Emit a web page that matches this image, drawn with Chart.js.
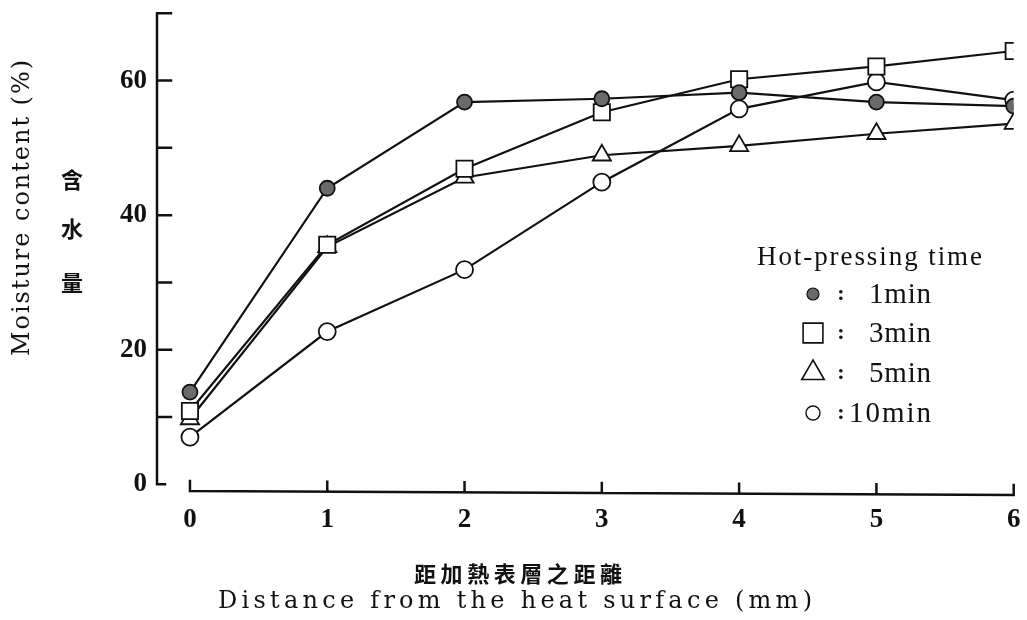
<!DOCTYPE html>
<html>
<head>
<meta charset="utf-8">
<script src="https://cdn.jsdelivr.net/npm/chart.js@4"></script>
<style>
  html, body { margin: 0; padding: 0; background: #fff; }
  #wrap { width: 1027px; height: 620px; }
</style>
</head>
<body>
<div id="wrap"><canvas id="moistureChart" width="1027" height="620"></canvas></div>
<script>
// Moisture content vs distance from heat surface

const distances = [0, 1, 2, 3, 4, 5, 6];
const moisture1min = [13.7, 44.0, 56.8, 57.3, 58.2, 56.8, 56.2];
const moisture3min = [10.9, 35.6, 46.9, 55.3, 60.2, 62.1, 64.4];
const moisture5min = [9.7, 35.3, 45.6, 48.9, 50.3, 52.1, 53.6];
const moisture10min = [7.0, 22.7, 31.9, 44.9, 55.8, 59.8, 57.1];
const seriesNames = ['1min', '3min', '5min', '10min'];
const xTickLabels = [0, 1, 2, 3, 4, 5, 6];
const yTickValues = [0, 10, 20, 30, 40, 50, 60, 70];
const yTickLabels = [0, 20, 40, 60];
const legendTitle = 'Hot-pressing time';
const yTitleEn = 'Moisture content (%)';
const yTitleZh = ['含', '水', '量'];
const xTitleZh = '距加熱表層之距離';
const xTitleEn = 'Distance from the heat surface (mm)';

const INK = '#111';
const SERIF = "'Liberation Serif', 'DejaVu Serif', serif";

function toPoints(arr){ return arr.map((v, i) => ({ x: distances[i], y: v })); }

// draw text stretched to a given width with letter spacing
function drawFit(ctx, text, x, y, width, font, align){
  ctx.font = font;
  ctx.letterSpacing = '0px';
  const w = ctx.measureText(text).width;
  const sp = Math.max(0, (width - w) / Math.max(1, text.length - 1));
  ctx.letterSpacing = sp + 'px';
  ctx.textAlign = 'left';
  const x0 = align === 'right' ? x - width : x;
  ctx.fillText(text, x0, y);
  ctx.letterSpacing = '0px';
}

function marker(ctx, style, r, x, y, fill, bw){
  ctx.save();
  ctx.fillStyle = fill;
  ctx.strokeStyle = INK;
  ctx.lineWidth = bw;
  if (Chart.helpers && Chart.helpers.drawPoint){
    Chart.helpers.drawPoint(ctx, { pointStyle: style, radius: r, borderWidth: bw, rotation: 0 }, x, y);
  }
  ctx.restore();
}

const framePlugin = {
  id: 'frame',
  beforeDatasetsDraw(chart){
    const { ctx, chartArea, scales } = chart;
    const x = scales.x, y = scales.y;
    ctx.save();
    ctx.strokeStyle = INK;
    ctx.lineWidth = 2.5;
    ctx.lineCap = 'square';
    // y axis (bracket with inward ticks)
    const yl = chartArea.left;
    ctx.beginPath();
    ctx.moveTo(yl, y.getPixelForValue(0));
    ctx.lineTo(yl, y.getPixelForValue(70));
    y.ticks.forEach(t => {
      const py = y.getPixelForValue(t.value);
      ctx.moveTo(yl, py);
      ctx.lineTo(yl + (t.value === 0 ? 8 : 14), py);
    });
    ctx.stroke();
    // x axis (from 0 to 6, ticks upward)
    const xb = chartArea.bottom;
    ctx.beginPath();
    ctx.moveTo(x.getPixelForValue(0), xb);
    ctx.lineTo(x.getPixelForValue(6), xb + 4);
    xTickLabels.forEach((v, i) => {
      const px = x.getPixelForValue(v);
      const off = 4 * i / 6;
      ctx.moveTo(px, xb + off);
      ctx.lineTo(px, xb + off - 10);
    });
    ctx.stroke();
    ctx.restore();
  },
  afterDraw(chart){
    const { ctx } = chart;
    ctx.save();
    ctx.fillStyle = INK;
    ctx.textBaseline = 'middle';
    // y titles
    ctx.save();
    ctx.translate(23, 208);
    ctx.rotate(-Math.PI / 2);
    drawFit(ctx, yTitleEn, -148, 0, 296, "24px 'DejaVu Serif', serif");
    ctx.restore();
    ctx.font = "bold 22px 'Noto Sans CJK TC', sans-serif";
    ctx.textAlign = 'center';
    [180, 229, 283].forEach((py, i) => ctx.fillText(yTitleZh[i], 72, py));
    // x titles
    drawFit(ctx, xTitleZh, 414, 574, 208, "bold 22px 'Noto Sans CJK TC', sans-serif");
    drawFit(ctx, xTitleEn, 218, 602, 594, "24px 'DejaVu Serif', serif");
    // legend
    drawFit(ctx, legendTitle, 757, 258, 225, "27px " + SERIF);
    const rows = [294, 333, 373, 413];
    const widths = [62, 62, 62, 82];
    const ds = chart.data.datasets;
    const lgStyle = [
      { r: 6, bw: 1.2 },
      { r: 14, bw: 1.6 },
      { r: 13, bw: 1.6 },
      { r: 7, bw: 1.4 }
    ];
    rows.forEach((py, i) => {
      const d = ds[i];
      marker(ctx, d.pointStyle, lgStyle[i].r, 813, py, d.pointBackgroundColor, lgStyle[i].bw);
      ctx.fillStyle = INK;
      ctx.font = "bold 22px " + SERIF;
      ctx.textAlign = 'center';
      ctx.fillText(':', 841, py);
      drawFit(ctx, seriesNames[i], 931, py + 1, widths[i], "29px " + SERIF, 'right');
    });
    ctx.restore();
  }
};

function makeSet(label, data, style, radius, fill){
  return {
    label,
    data: toPoints(data),
    borderColor: INK,
    borderWidth: 2.2,
    pointStyle: style,
    pointRadius: radius,
    pointHoverRadius: radius,
    pointBorderWidth: 1.8,
    pointBorderColor: INK,
    pointBackgroundColor: fill,
    tension: 0,
    fill: false
  };
}

const datasets = [
  makeSet(seriesNames[0], moisture1min, 'circle', 7.5, '#6a6a6a'),
  makeSet(seriesNames[1], moisture3min, 'rect', 11.5, '#ffffff'),
  makeSet(seriesNames[2], moisture5min, 'triangle', 10.5, '#ffffff'),
  makeSet(seriesNames[3], moisture10min, 'circle', 8.5, '#ffffff')
];

new Chart(document.getElementById('moistureChart'), {
  type: 'line',
  data: { datasets },
  options: {
    responsive: false,
    animation: false,
    devicePixelRatio: 1,
    layout: { padding: { left: 0, right: 5, top: 10, bottom: 0 } },
    plugins: { legend: { display: false }, tooltip: { enabled: false } },
    scales: {
      x: {
        type: 'linear',
        min: -0.24,
        max: 6,
        afterFit: (s) => { s.height = 129; s.paddingLeft = 0; s.paddingRight = 0; },
        afterBuildTicks: (s) => { s.ticks = xTickLabels.map(v => ({ value: v })); },
        grid: { display: false, drawTicks: false },
        border: { display: false },
        ticks: {
          padding: 13,
          color: INK,
          font: { family: SERIF, size: 27, weight: 'bold' },
          maxRotation: 0,
          autoSkip: false
        }
      },
      y: {
        type: 'linear',
        min: -1,
        max: 70,
        afterFit: (s) => { s.width = 157; s.paddingTop = 0; s.paddingBottom = 0; },
        afterBuildTicks: (s) => { s.ticks = yTickValues.map(v => ({ value: v })); },
        grid: { display: false, drawTicks: false },
        border: { display: false },
        ticks: {
          padding: 10,
          color: INK,
          font: { family: SERIF, size: 27, weight: 'bold' },
          callback: (v) => yTickLabels.includes(v) ? String(v) : ''
        }
      }
    }
  },
  plugins: [framePlugin]
});
</script>
</body>
</html>
